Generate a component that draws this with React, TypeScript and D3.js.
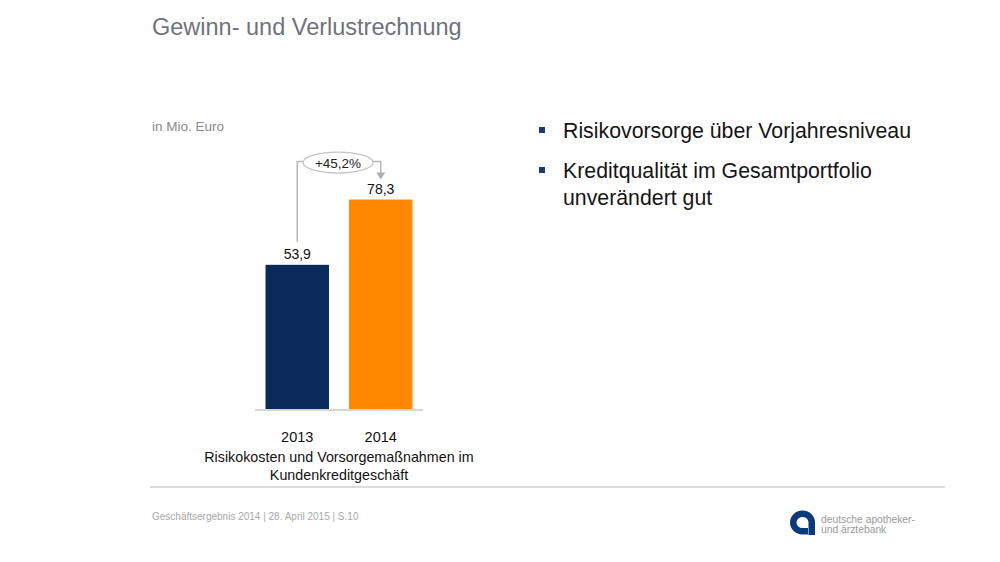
import * as d3 from 'd3'

const YEARS = ['2013', '2014']
const VALUES = [53.9, 78.3]
const BAR_COLORS = ['#0b2a5c', '#ff8800']
const CHANGE_LABEL = '+45,2%'
const CATEGORY_LINES = ['Risikokosten und Vorsorgemaßnahmen im', 'Kundenkreditgeschäft']
const BULLETS = [['Risikovorsorge über Vorjahresniveau'], ['Kreditqualität im Gesamtportfolio', 'unverändert gut']]

const W = 1000
const H = 562
const FONT = '"Liberation Sans", Arial, sans-serif'

const fmt = (v: number) => v.toFixed(1).replace('.', ',')

export default function App() {
  const x = d3.scaleBand().domain(YEARS).range([255, 423]).paddingInner(0.24).paddingOuter(0.126)
  const y = d3.scaleLinear().domain([0, 80]).range([409, 195])
  const cx = (k: string) => (x(k) ?? 0) + x.bandwidth() / 2

  // bracket between the two bars
  const x0 = cx(YEARS[0])
  const x1 = cx(YEARS[1])
  const by = y(VALUES[1]) - 38
  const ellCx = (x0 + x1) / 2 - 1
  const ellRx = 35
  const bracket = d3.path()
  bracket.moveTo(x0, y(VALUES[0]) - 23)
  bracket.lineTo(x0, by)
  bracket.lineTo(ellCx - ellRx, by)
  bracket.moveTo(ellCx + ellRx, by)
  bracket.lineTo(x1, by)
  bracket.lineTo(x1, y(VALUES[1]) - 26)

  const bulletLineH = 27
  let lineY = 138
  const bulletRows: { text: string; y: number; first: boolean }[] = []
  BULLETS.forEach((b, i) => {
    if (i > 0) lineY += 13
    b.forEach((t, j) => {
      bulletRows.push({ text: t, y: lineY, first: j === 0 })
      lineY += bulletLineH
    })
  })

  return (
    <svg width={W} height={H} style={{ position: 'absolute', left: 0, top: 0, background: '#fff' }} fontFamily={FONT}>
      <text x={152} y={35} fontSize={23.5} fill="#6e737e">Gewinn- und Verlustrechnung</text>
      <text x={152} y={131} fontSize={13.5} fill="#8a8a8a">in Mio. Euro</text>

      {/* baseline */}
      <line x1={255} x2={423} y1={y(0) + 1} y2={y(0) + 1} stroke="#d6d6d6" strokeWidth={2} />

      {YEARS.map((k, i) => (
        <g key={k}>
          <rect x={x(k)} y={y(VALUES[i])} width={x.bandwidth()} height={y(0) - y(VALUES[i])} fill={BAR_COLORS[i]} />
          <text x={cx(k)} y={y(VALUES[i]) - 6} textAnchor="middle" fontSize={14} fill="#111">{fmt(VALUES[i])}</text>
          <text x={cx(k)} y={y(0) + 33} textAnchor="middle" fontSize={14.5} fill="#111">{k}</text>
        </g>
      ))}

      <path d={bracket.toString()} fill="none" stroke="#b8b8b8" strokeWidth={1.5} />
      <path d={`M${x1 - 4.5},${y(VALUES[1]) - 27} L${x1 + 4.5},${y(VALUES[1]) - 27} L${x1},${y(VALUES[1]) - 20} Z`} fill="#b0b0b0" />
      <ellipse cx={ellCx} cy={by + 1} rx={ellRx} ry={10.5} fill="#fff" stroke="#c4c4c4" strokeWidth={1.3} />
      <text x={ellCx} y={by + 6} textAnchor="middle" fontSize={13.5} fill="#222">{CHANGE_LABEL}</text>

      {CATEGORY_LINES.map((t, i) => (
        <text key={t} x={339} y={462 + i * 18} textAnchor="middle" fontSize={14.3} fill="#111">{t}</text>
      ))}

      {bulletRows.map((r) => (
        <g key={r.text}>
          {r.first && <rect x={539} y={r.y - 11} width={6} height={6} fill="#1d3a78" />}
          <text x={563} y={r.y} fontSize={21.3} fill="#151515">{r.text}</text>
        </g>
      ))}

      {/* footer */}
      <line x1={150} x2={945} y1={487} y2={487} stroke="#dcdcdc" strokeWidth={2} />
      <text x={152} y={520} fontSize={10} fill="#a8a8a8">Geschäftsergebnis 2014 | 28. April 2015 | S.10</text>

      {/* logo */}
      <path
        d="M815,535 L815,522 A12.5,12 0 1 0 802.5,534.5 L808,534.5 L808,528 L802.5,528 A6,5.5 0 1 1 808.5,522 L808.5,535 Z"
        fill="#0b3a7a"
      />
      <text x={821} y={523} fontSize={10.3} fill="#9a9a9a">deutsche apotheker-</text>
      <text x={821} y={533} fontSize={10.3} fill="#9a9a9a">und ärztebank</text>
    </svg>
  )
}
